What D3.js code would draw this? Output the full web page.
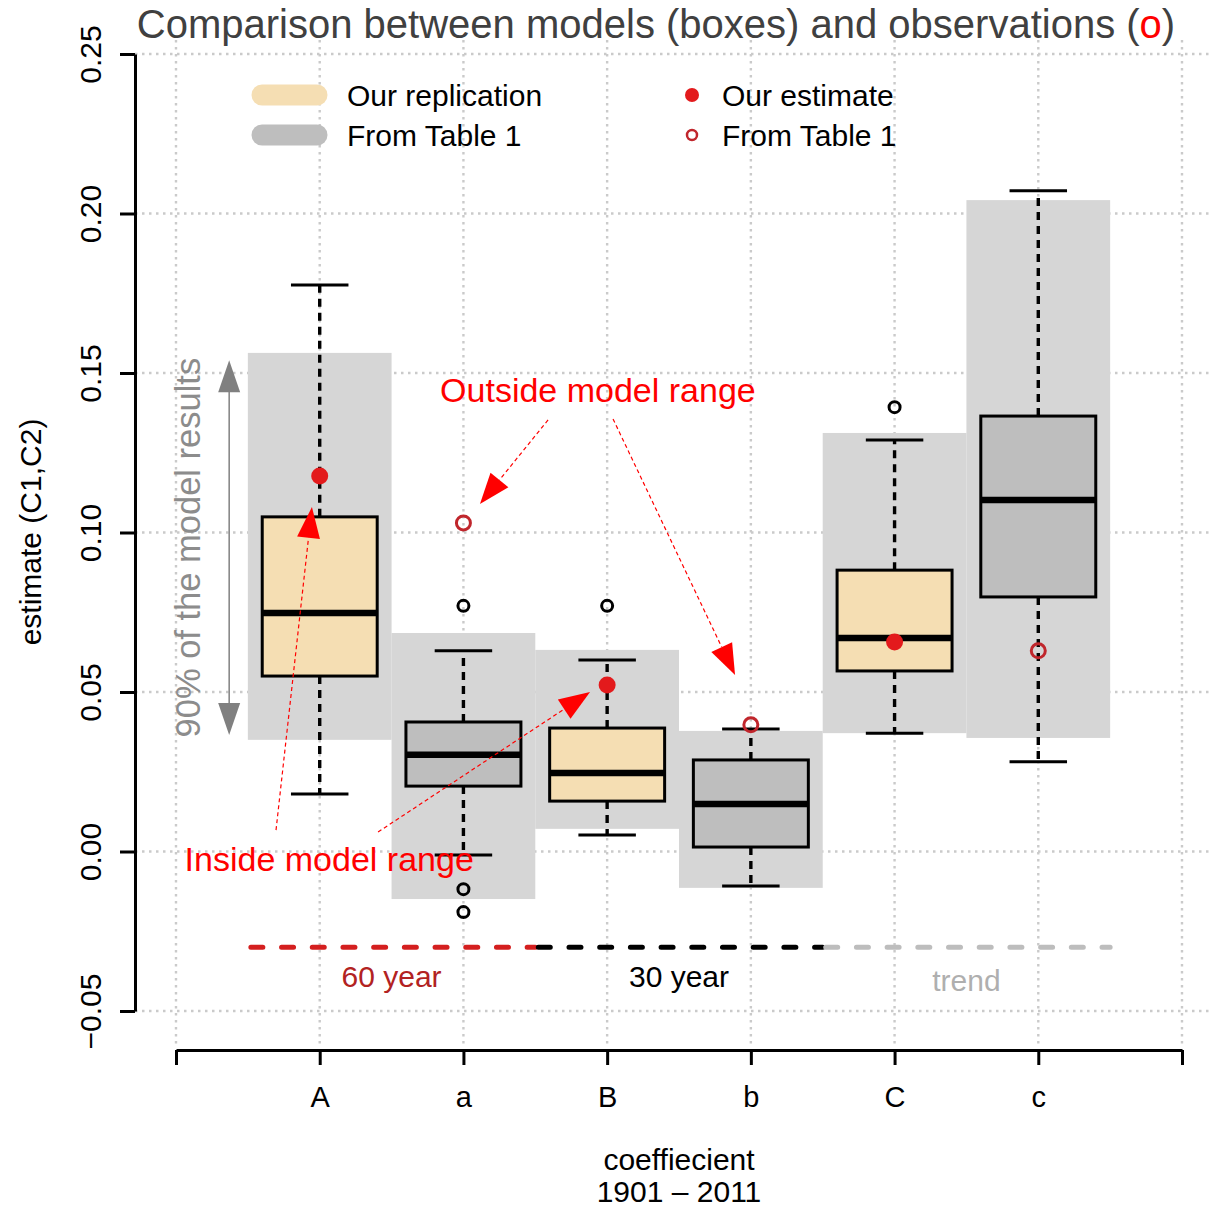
<!DOCTYPE html>
<html>
<head>
<meta charset="utf-8">
<script src="https://cdn.jsdelivr.net/npm/d3@7"></script>
<style>
  html, body { margin: 0; padding: 0; background: #fff; }
  svg { display: block; font-family: "Liberation Sans", Arial, Helvetica, sans-serif; }
</style>
</head>
<body>
<svg id="chart" width="1213" height="1209"></svg>
<script>
// ---------------- data ----------------
const categories   = ["A", "a", "B", "b", "C", "c"];
const boxSource    = ["replication", "table", "replication", "table", "replication", "table"];
const whiskerLow   = [0.0180, -0.0011, 0.0052, -0.0108, 0.0371, 0.0281];
const quartile1    = [0.0550,  0.0205, 0.0158,  0.0014, 0.0566, 0.0798];
const medians      = [0.0748,  0.0303, 0.0246,  0.0149, 0.0669, 0.1102];
const quartile3    = [0.1049,  0.0406, 0.0387,  0.0287, 0.0882, 0.1365];
const whiskerHigh  = [0.1776,  0.0629, 0.0600,  0.0384, 0.1290, 0.2071];
const outliers     = [[], [0.0770, -0.0118, -0.0190], [0.0770], [], [0.1393], []];
const range90Low   = [0.0350, -0.0149, 0.0071, -0.0114, 0.0371, 0.0356];
const range90High  = [0.1563,  0.0685, 0.0632,  0.0378, 0.1312, 0.2042];
const observed     = [0.1177,  0.1030, 0.0522,  0.0397, 0.0657, 0.0629];
const observedType = ["estimate", "table", "estimate", "table", "estimate", "table"];
const yTicks       = [-0.05, 0, 0.05, 0.10, 0.15, 0.20, 0.25];
const yTickLabels  = ["\u22120.05", "0.00", "0.05", "0.10", "0.15", "0.20", "0.25"];
const periodLabels = ["60 year", "30 year", "trend"];
const periodSpans  = [[0.5, 2.5], [2.5, 4.5], [4.5, 6.5]];

// ---------------- layout ----------------
const svg = d3.select("#chart");
const x = d3.scaleLinear().domain([0, 7]).range([176, 1182]);
const y = d3.scaleLinear().domain([-0.05, 0.25]).range([1011, 54]);
const pos = i => x(i + 1);

const colors = {
  replication: "#F5DEB3",
  table: "#BEBEBE",
  band: "#D6D6D6",
  grid: "#CACACA",
  estimate: "#E31A1C",
  tableObs: "#C0262C",
  periods: ["#D41F1F", "#000000", "#BDBDBD"],
  periodText: ["#B22222", "#000000", "#AFAFAF"]
};

// ---------------- grid ----------------
const grid = svg.append("g");
grid.selectAll("line.h").data(yTicks).join("line")
  .attr("x1", 135).attr("x2", 1213)
  .attr("y1", d => y(d)).attr("y2", d => y(d))
  .attr("stroke", colors.grid).attr("stroke-width", 2.4).attr("stroke-dasharray", "2.5,4.5");
grid.selectAll("line.v").data(d3.range(0, 8)).join("line")
  .attr("x1", d => x(d)).attr("x2", d => x(d))
  .attr("y1", 40).attr("y2", 1045)
  .attr("stroke", colors.grid).attr("stroke-width", 2.4).attr("stroke-dasharray", "2.5,4.5");

// ---------------- 90% range bands ----------------
svg.append("g").selectAll("rect").data(categories).join("rect")
  .attr("x", (d, i) => x(i + 0.5))
  .attr("width", (d, i) => x(i + 1.5) - x(i + 0.5))
  .attr("y", (d, i) => y(range90High[i]))
  .attr("height", (d, i) => y(range90Low[i]) - y(range90High[i]))
  .attr("fill", colors.band);

// ---------------- period lines ----------------
const periodY = -0.0300;
const pg = svg.append("g");
periodSpans.forEach((s, k) => {
  pg.append("line")
    .attr("x1", x(s[0]) + 3).attr("x2", x(s[1]))
    .attr("y1", y(periodY)).attr("y2", y(periodY))
    .attr("stroke", colors.periods[k]).attr("stroke-width", 5)
    .attr("stroke-linecap", "round").attr("stroke-dasharray", "12,18.7");
  pg.append("text")
    .attr("x", x((s[0] + s[1]) / 2)).attr("y", y(periodY) + (k === 2 ? 44 : 40))
    .attr("text-anchor", "middle").attr("font-size", 30)
    .attr("fill", colors.periodText[k]).text(periodLabels[k]);
});

// ---------------- boxplots ----------------
const bw = x(0.4) - x(0);
const cw = x(0.2) - x(0);
const boxes = svg.append("g");
categories.forEach((c, i) => {
  const cx = pos(i);
  const g = boxes.append("g");
  g.append("line").attr("x1", cx).attr("x2", cx)
    .attr("y1", y(quartile3[i])).attr("y2", y(whiskerHigh[i]))
    .attr("stroke", "#000").attr("stroke-width", 3.4).attr("stroke-dasharray", "8,6");
  g.append("line").attr("x1", cx).attr("x2", cx)
    .attr("y1", y(quartile1[i])).attr("y2", y(whiskerLow[i]))
    .attr("stroke", "#000").attr("stroke-width", 3.4).attr("stroke-dasharray", "8,6");
  [whiskerHigh[i], whiskerLow[i]].forEach(v => {
    g.append("line").attr("x1", cx - cw).attr("x2", cx + cw)
      .attr("y1", y(v)).attr("y2", y(v))
      .attr("stroke", "#000").attr("stroke-width", 3);
  });
  g.append("rect")
    .attr("x", cx - bw).attr("width", 2 * bw)
    .attr("y", y(quartile3[i])).attr("height", y(quartile1[i]) - y(quartile3[i]))
    .attr("fill", colors[boxSource[i]]).attr("stroke", "#000").attr("stroke-width", 3);
  g.append("line").attr("x1", cx - bw).attr("x2", cx + bw)
    .attr("y1", y(medians[i])).attr("y2", y(medians[i]))
    .attr("stroke", "#000").attr("stroke-width", 6.5);
  g.selectAll("circle.out").data(outliers[i]).join("circle")
    .attr("cx", cx).attr("cy", d => y(d)).attr("r", 5.5)
    .attr("fill", "none").attr("stroke", "#000").attr("stroke-width", 3);
  if (observedType[i] === "estimate") {
    g.append("circle").attr("cx", cx).attr("cy", y(observed[i])).attr("r", 8.5)
      .attr("fill", colors.estimate);
  } else {
    g.append("circle").attr("cx", cx).attr("cy", y(observed[i])).attr("r", 7)
      .attr("fill", "none").attr("stroke", colors.tableObs).attr("stroke-width", 3);
  }
});

// ---------------- arrows helper ----------------
function arrowHead(g, x1, y1, x2, y2, len, width, fill) {
  const a = Math.atan2(y2 - y1, x2 - x1);
  const bx = x2 - len * Math.cos(a), by = y2 - len * Math.sin(a);
  const px = -Math.sin(a) * width / 2, py = Math.cos(a) * width / 2;
  g.append("path")
    .attr("d", `M${x2},${y2}L${bx + px},${by + py}L${bx - px},${by - py}Z`)
    .attr("fill", fill);
  return [bx, by];
}

// ---------------- 90% arrow ----------------
const ag = svg.append("g");
const ax = x(0.37);
const aTop = y(0.1540), aBot = y(0.0365);
ag.append("line").attr("x1", ax).attr("x2", ax).attr("y1", aTop + 20).attr("y2", aBot - 20)
  .attr("stroke", "#808080").attr("stroke-width", 1.5);
arrowHead(ag, ax, aBot, ax, aTop, 32, 22, "#808080");
arrowHead(ag, ax, aTop, ax, aBot, 32, 22, "#808080");
ag.append("text")
  .attr("transform", `translate(${x(0.17)},${(aTop + aBot) / 2}) rotate(-90)`)
  .attr("text-anchor", "middle").attr("font-size", 34.5).attr("fill", "#8C8C8C")
  .text("90% of the model results");

// ---------------- red annotation arrows ----------------
const redArrows = [
  { from: [2.589, 0.1353], to: [2.115, 0.1089] },
  { from: [3.041, 0.1356], to: [3.890, 0.0553] },
  { from: [0.696, 0.0067], to: [0.946, 0.1080] },
  { from: [1.406, 0.0061], to: [2.881, 0.0500] }
];
const rg = svg.append("g");
redArrows.forEach(a => {
  const x1 = x(a.from[0]), y1 = y(a.from[1]), x2 = x(a.to[0]), y2 = y(a.to[1]);
  const b = arrowHead(rg, x1, y1, x2, y2, 31, 23, "#FF0000");
  rg.append("line").attr("x1", x1).attr("y1", y1).attr("x2", b[0]).attr("y2", b[1])
    .attr("stroke", "#FF0000").attr("stroke-width", 1.2).attr("stroke-dasharray", "4,3");
});
rg.append("text").attr("x", x(2.936)).attr("y", y(0.1409))
  .attr("text-anchor", "middle").attr("font-size", 34).attr("fill", "#FF0000")
  .text("Outside model range");
rg.append("text").attr("x", x(0.06)).attr("y", y(-0.0061))
  .attr("text-anchor", "start").attr("font-size", 34).attr("fill", "#FF0000")
  .text("Inside model range");

// ---------------- axes ----------------
const yAxis = svg.append("g").attr("transform", "translate(135,0)")
  .call(d3.axisLeft(y).tickValues(yTicks).tickSize(15).tickSizeOuter(0)
    .tickFormat((d, i) => yTickLabels[i]));
yAxis.select(".domain").attr("stroke", "#000").attr("stroke-width", 3);
yAxis.selectAll(".tick line").attr("stroke", "#000").attr("stroke-width", 3);
yAxis.selectAll(".tick text")
  .attr("x", null).attr("dy", null)
  .attr("transform", "translate(-34,0) rotate(-90)")
  .attr("text-anchor", "middle")
  .attr("font-size", 30).attr("font-family", "Liberation Sans, Arial, sans-serif").attr("fill", "#000");

const xAxis = svg.append("g").attr("transform", "translate(0,1050)")
  .call(d3.axisBottom(x).tickValues(d3.range(0, 8)).tickSize(15).tickSizeOuter(0)
    .tickFormat(d => (d >= 1 && d <= 6) ? categories[d - 1] : ""));
xAxis.select(".domain").attr("stroke", "#000").attr("stroke-width", 3);
xAxis.selectAll(".tick line").attr("stroke", "#000").attr("stroke-width", 3);
xAxis.selectAll(".tick text")
  .attr("y", 47).attr("dy", "0.35em")
  .attr("font-size", 29).attr("font-family", "Liberation Sans, Arial, sans-serif").attr("fill", "#000");

// axis titles
svg.append("text").attr("transform", "translate(41,532) rotate(-90)")
  .attr("text-anchor", "middle").attr("font-size", 30).text("estimate (C1,C2)");
svg.append("text").attr("x", x(3.5)).attr("y", 1170)
  .attr("text-anchor", "middle").attr("font-size", 30).text("coeffiecient");
svg.append("text").attr("x", x(3.5)).attr("y", 1202)
  .attr("text-anchor", "middle").attr("font-size", 30).text("1901 \u2013 2011");

// title
const title = svg.append("text").attr("x", 656).attr("y", 38)
  .attr("text-anchor", "middle").attr("font-size", 40).attr("fill", "#404040");
title.append("tspan").text("Comparison between models (boxes) and observations (");
title.append("tspan").attr("fill", "#FF0000").text("o");
title.append("tspan").text(")");

// ---------------- legend ----------------
const lg = svg.append("g");
const boxLegend = [["Our replication", colors.replication], ["From Table 1", colors.table]];
boxLegend.forEach((d, k) => {
  const ly = 95 + k * 40;
  lg.append("line").attr("x1", 262).attr("x2", 317).attr("y1", ly).attr("y2", ly)
    .attr("stroke", d[1]).attr("stroke-width", 21).attr("stroke-linecap", "round");
  lg.append("text").attr("x", 347).attr("y", ly + 10.5).attr("font-size", 30).text(d[0]);
});
lg.append("circle").attr("cx", 692).attr("cy", 95).attr("r", 7).attr("fill", colors.estimate);
lg.append("text").attr("x", 722).attr("y", 105.5).attr("font-size", 30).text("Our estimate");
lg.append("circle").attr("cx", 692).attr("cy", 135).attr("r", 5).attr("fill", "none")
  .attr("stroke", colors.tableObs).attr("stroke-width", 2.5);
lg.append("text").attr("x", 722).attr("y", 145.5).attr("font-size", 30).text("From Table 1");
</script>
</body>
</html>
